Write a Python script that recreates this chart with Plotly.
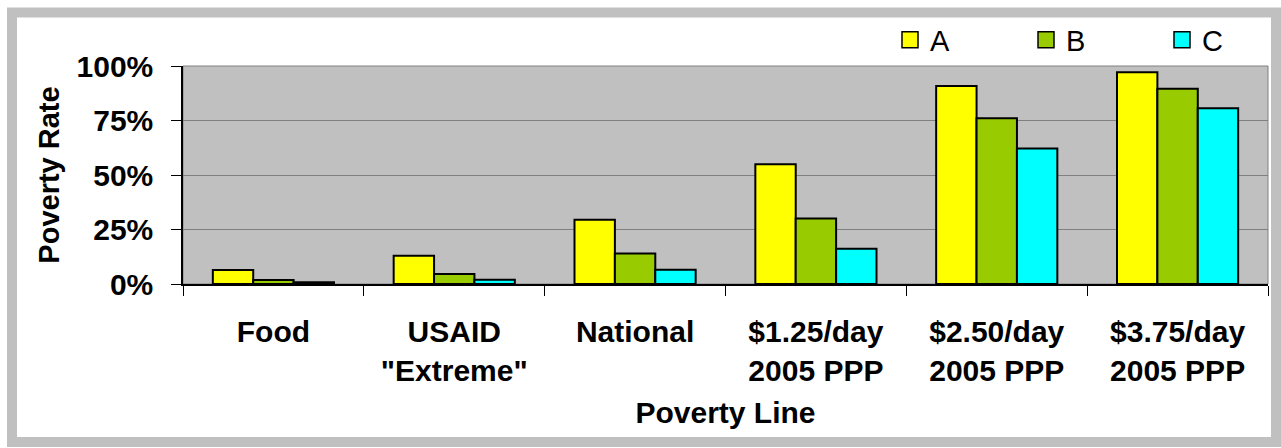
import plotly.graph_objects as go

categories = ["Food", "USAID<br>\"Extreme\"", "National", "$1.25/day<br>2005 PPP",
              "$2.50/day<br>2005 PPP", "$3.75/day<br>2005 PPP"]
series_names = ["A", "B", "C"]
values_a = [0.064, 0.130, 0.295, 0.549, 0.908, 0.971]
values_b = [0.018, 0.046, 0.140, 0.300, 0.760, 0.896]
values_c = [0.008, 0.020, 0.065, 0.162, 0.622, 0.806]
colors = ["#ffff00", "#99cc00", "#00ffff"]
y_ticks = [0, 0.25, 0.5, 0.75, 1.0]
y_tick_labels = ["0%", "25%", "50%", "75%", "100%"]

FONT = "Arial, 'Liberation Sans', sans-serif"

fig = go.Figure()
for name, vals, col in zip(series_names, [values_a, values_b, values_c], colors):
    fig.add_trace(go.Bar(x=categories, y=vals, name=name, marker_color=col,
                         marker_line_color="black", marker_line_width=2,
                         showlegend=False))
    # legend proxy with a larger square symbol
    fig.add_trace(go.Scatter(x=[None], y=[None], mode="markers", name=name,
                             marker=dict(symbol="square", size=20, color=col,
                                         line=dict(color="black", width=1.5))))

L, R, T, B = 183, 13, 66, 164
W, H = 1281, 448
pw, ph = W - L - R, H - T - B

def px(x):
    return (x - L) / pw

def py(y):
    return (H - B - y) / ph

fig.update_layout(
    width=W, height=H,
    margin=dict(l=L, r=R, t=T, b=B, autoexpand=False),
    paper_bgcolor="white", plot_bgcolor="#c0c0c0",
    barmode="group", bargap=0.33, bargroupgap=0,
    font=dict(family=FONT, color="black"),
    legend=dict(orientation="h", x=px(890), xanchor="left", y=py(40), yanchor="middle",
                font=dict(family=FONT, size=29, color="black"),
                entrywidth=91, entrywidthmode="pixels",
                bgcolor="rgba(0,0,0,0)", itemclick=False),
    shapes=[
        dict(type="rect", xref="paper", yref="paper", x0=0, x1=1, y0=0, y1=1,
             line=dict(color="#808080", width=1), layer="below"),
        dict(type="rect", xref="paper", yref="paper",
             x0=px(12), x1=px(1276), y0=py(442), y1=py(12.5),
             line=dict(color="#c0c0c0", width=10), fillcolor="rgba(0,0,0,0)", layer="above"),
    ],
)

fig.update_xaxes(
    type="category", showline=True, linecolor="black", linewidth=1.5,
    ticks="outside", tickson="boundaries", ticklen=10, tickcolor="black", tickwidth=1,
    showgrid=False,
    tickfont=dict(family=FONT, size=30, color="black", weight="bold"),
    ticklabelstandoff=20,
    title=dict(text="Poverty Line", font=dict(family=FONT, size=30, color="black", weight="bold"),
               standoff=16),
)
fig.update_yaxes(
    range=[0, 1], tickvals=y_ticks, ticktext=y_tick_labels,
    showline=True, linecolor="black", linewidth=1.5,
    ticks="outside", ticklen=10, tickcolor="black", tickwidth=1,
    showgrid=True, gridcolor="#808080", gridwidth=1, zeroline=False,
    tickfont=dict(family=FONT, size=30, color="black", weight="bold"),
    ticklabelstandoff=12,
    title=dict(text="Poverty Rate", font=dict(family=FONT, size=29, color="black", weight="bold"),
               standoff=8),
)

fig.write_html("out.html")
